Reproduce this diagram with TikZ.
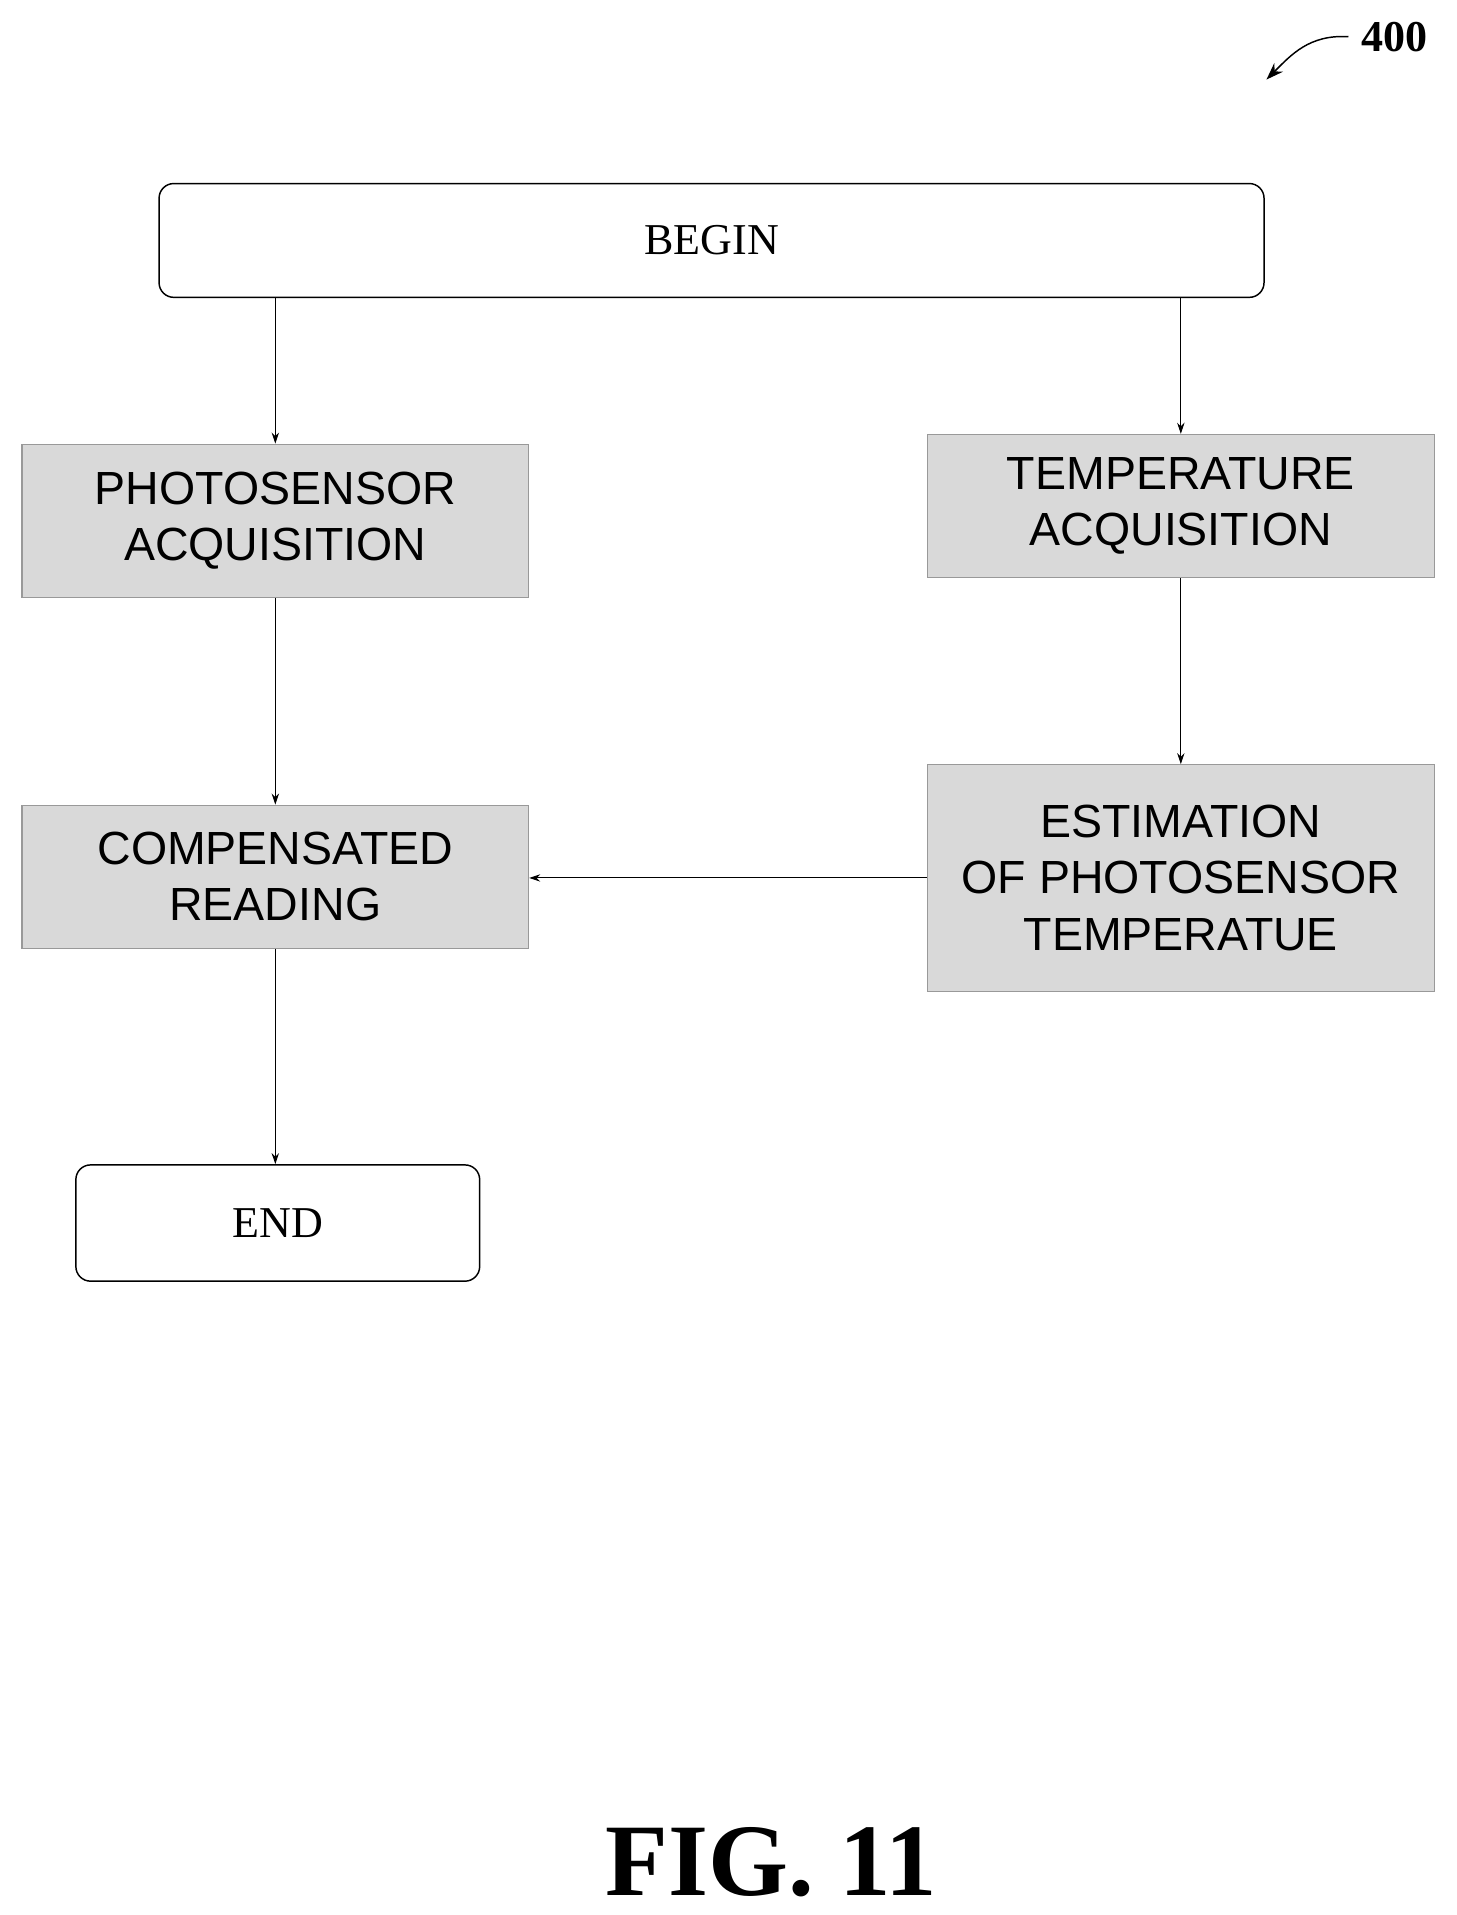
\documentclass[tikz,border=0pt]{standalone}
\usepackage{fontspec}
\setmainfont{Liberation Serif}
\setsansfont{Liberation Sans}
\usetikzlibrary{arrows.meta}
\begin{document}
\begin{tikzpicture}[x=1pt,y=-1pt,
  term/.style={draw,line width=1.2pt,rounded corners=12pt,font=\fontsize{36}{40}\selectfont,inner sep=0pt},
  proc/.style={draw=gray!80,line width=1pt,fill=gray!30,font=\sffamily\fontsize{38}{46}\selectfont,align=center,inner sep=0pt},
  arr/.style={-{Stealth[length=9pt,width=6pt]},line width=0.8pt}]
\useasboundingbox (0,0) rectangle (1190,1565);
\node[term,minimum width=903pt,minimum height=93pt] (begin) at (581.5,196.5) {BEGIN};
\node[proc,minimum width=414pt,minimum height=125pt] (photo) at (225,425.5) {PHOTOSENSOR\\ACQUISITION};
\node[proc,minimum width=414pt,minimum height=117pt] (temp) at (965,413.5) {TEMPERATURE\\ACQUISITION};
\node[proc,minimum width=414pt,minimum height=117pt] (comp) at (225,716.5) {COMPENSATED\\READING};
\node[proc,minimum width=414pt,minimum height=185pt] (est) at (965,717.5) {ESTIMATION\\OF PHOTOSENSOR\\TEMPERATUE};
\node[term,minimum width=330pt,minimum height=95pt] (end) at (227,999.5) {END};
\draw[arr] (begin.south -| photo.north) -- (photo.north);
\draw[arr] (begin.south -| temp.north) -- (temp.north);
\draw[arr] (photo) -- (comp);
\draw[arr] (temp) -- (est);
\draw[arr] (est.west) -- (comp.east |- est.west);
\draw[arr] (comp.south) -- (comp.south |- end.north);
\node[font=\bfseries\fontsize{36}{40}\selectfont] (lbl) at (1140,30) {400};
\coordinate (tip) at (1035,65);
\draw[-{Stealth[length=14pt,width=10pt]},line width=1.2pt] (1102,30) .. controls (1070,28) and (1055,45) .. (tip);
\node[font=\bfseries\fontsize{84}{90}\selectfont] (fig) at (630,1522) {FIG. 11};
\end{tikzpicture}
\end{document}
